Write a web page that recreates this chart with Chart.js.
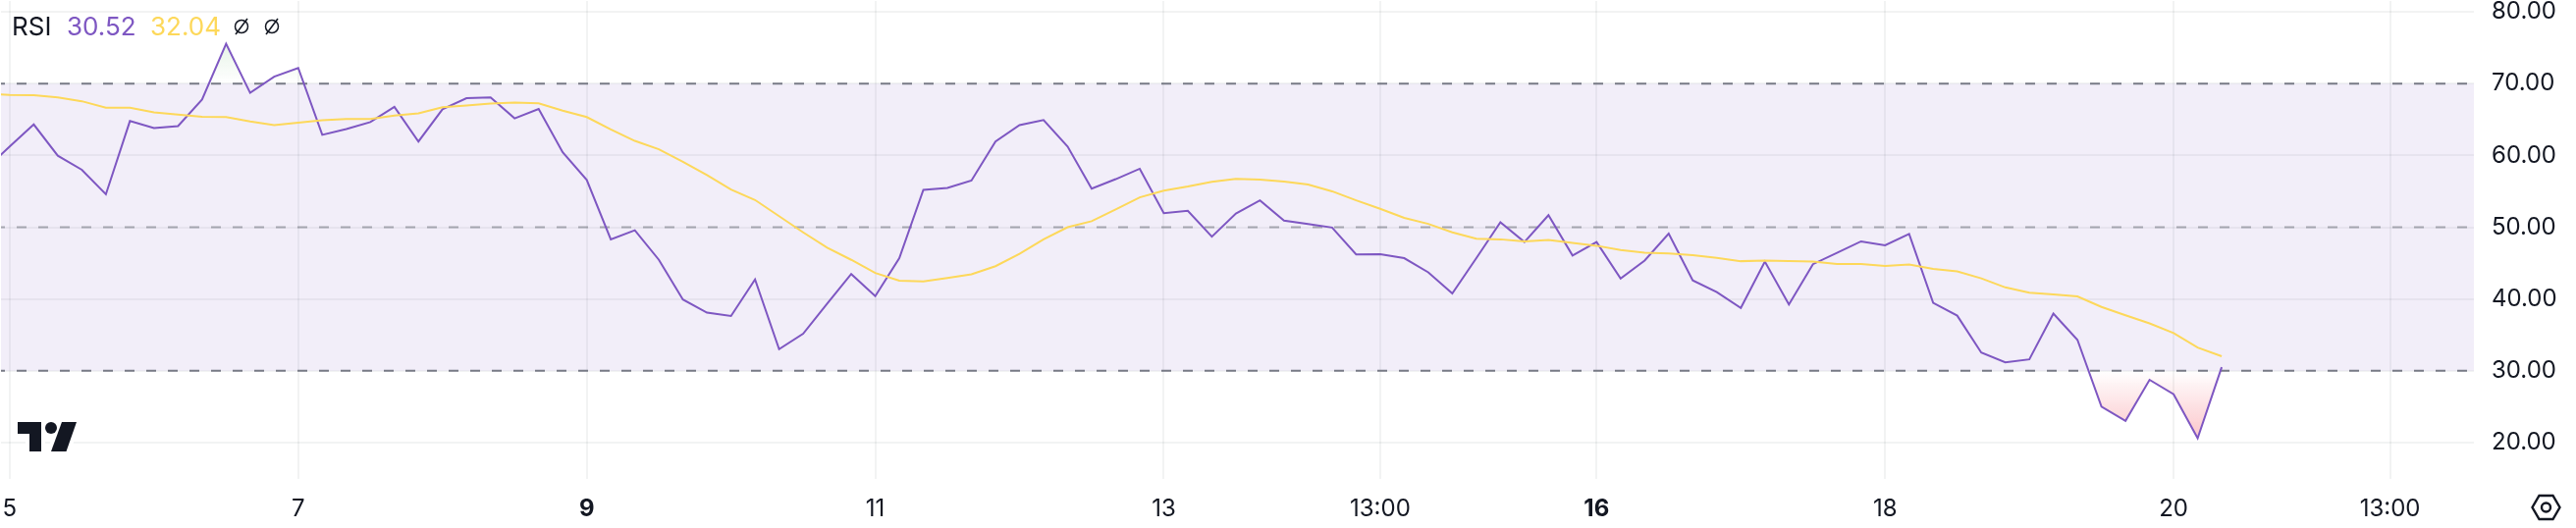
<!DOCTYPE html>
<html>
<head>
<meta charset="utf-8">
<title>RSI</title>
<script src="https://cdn.jsdelivr.net/npm/chart.js@4/dist/chart.umd.min.js"></script>
<style>
  html, body { margin: 0; padding: 0; background: #fff; }
  #wrap { position: relative; width: 2624px; height: 538px; overflow: hidden; font-family: Inter, sans-serif; }
  canvas { display: block; }
  .hdr { position: absolute; top: 9px; font-size: 26px; line-height: 36px; white-space: nowrap; }
  svg { position: absolute; overflow: visible; }
</style>
</head>
<body>
<div id="wrap">
  <canvas id="chart" width="2624" height="538"></canvas>
  <div class="hdr" style="left:12px;color:#131722">RSI</div>
  <div class="hdr" style="left:68px;color:#7E57C2">30.52</div>
  <div class="hdr" style="left:153px;color:#FDD85A">32.04</div>
  <svg style="left:0;top:0" width="300" height="50" fill="none" stroke="#131722" stroke-width="1.5">
    <circle cx="246" cy="27" r="6.5"/><line x1="240" y1="35" x2="252" y2="19"/>
    <circle cx="277" cy="27" r="6.5"/><line x1="271" y1="35" x2="283" y2="19"/>
  </svg>
  <svg style="left:0;top:0" width="100" height="500">
    <g fill="#fff" stroke="#fff" stroke-width="8">
      <path d="M18 430H42V460H30V442H18Z"/>
      <path d="M63 430H78L67.5 460H52Z"/>
    </g>
    <g fill="#131722">
      <path d="M18 430H42V460H30V442H18Z"/>
      <circle cx="52" cy="436" r="6"/>
      <path d="M63 430H78L67.5 460H52Z"/>
    </g>
  </svg>
  <svg style="left:2570px;top:495px" width="46" height="44" fill="none" stroke="#131722" stroke-width="2.4">
    <path d="M16.5 10H30.5L37.5 22L30.5 34H16.5L9.5 22Z"/><circle cx="23.5" cy="22" r="4.5"/>
  </svg>
</div>
<script>
// 4h bars, first value sits one bar left of the "5" tick
const firstBar = -1;
const rsi = [58.14, 61.23, 64.31, 59.96, 58.0, 54.58, 64.78, 63.8, 64.08, 67.78, 75.55, 68.71, 70.96, 72.18,
  62.86, 63.66, 64.64, 66.75, 61.93, 66.42, 67.96, 68.06, 65.16, 66.47, 60.43, 56.59, 48.31, 49.57, 45.46, 39.93,
  38.11, 37.64, 42.74, 33.01, 35.16, 39.37, 43.49, 40.4, 45.69, 55.19, 55.47, 56.5, 61.93, 64.22, 64.92, 61.23,
  55.38, 56.69, 58.14, 51.96, 52.29, 48.68, 51.91, 53.74, 50.93, 50.46, 49.95, 46.21, 46.25, 45.69, 43.72, 40.78,
  45.69, 50.7, 47.94, 51.68, 46.06, 47.94, 42.84, 45.36, 49.11, 42.6, 40.96, 38.76, 45.22, 39.23, 44.85, 46.44,
  48.03, 47.47, 49.06, 39.47, 37.69, 32.54, 31.18, 31.6, 37.97, 34.32, 25.01, 23.04, 28.75, 26.74, 20.61, 30.52];
const rsiMa = [68.6, 68.43, 68.39, 68.06, 67.54, 66.65, 66.65, 66.0, 65.67, 65.39, 65.34, 64.74, 64.22, 64.55,
  64.88, 65.06, 65.06, 65.53, 65.86, 66.7, 66.93, 67.22, 67.36, 67.26, 66.23, 65.34, 63.61, 62.02, 60.85, 59.12,
  57.25, 55.24, 53.79, 51.54, 49.29, 47.14, 45.46, 43.63, 42.55, 42.46, 42.93, 43.44, 44.57, 46.3, 48.31, 50.0,
  50.84, 52.48, 54.16, 55.1, 55.66, 56.31, 56.73, 56.64, 56.36, 55.94, 55.0, 53.74, 52.57, 51.31, 50.46, 49.29,
  48.4, 48.31, 48.03, 48.22, 47.8, 47.42, 46.81, 46.44, 46.34, 46.11, 45.74, 45.27, 45.36, 45.27, 45.22, 44.89,
  44.89, 44.61, 44.8, 44.19, 43.86, 42.88, 41.62, 40.87, 40.64, 40.36, 38.9, 37.74, 36.61, 35.26, 33.24, 32.04];

const xTickBars = [0, 12, 24, 36, 48, 57, 66, 78, 90, 99];
const xTickLabels = ['5', '7', '9', '11', '13', '13:00', '16', '18', '20', '13:00'];
const xBoldLabels = ['9', '16'];
const yTicks = [20, 30, 40, 50, 60, 70, 80];
const upperLevel = 70, middleLevel = 50, lowerLevel = 30;

const xMin = -0.363, xMax = 102.49, yMin = 14.95, yMax = 81.5;
const TEXT = '#131722', GRID = 'rgba(42,46,57,0.06)';

const points = arr => arr.map((v, i) => ({ x: i + firstBar, y: v }));
const level = v => [{ x: xMin, y: v }, { x: xMax, y: v }];
const dashed = (v, color, order) => ({
  data: level(v), borderColor: color, borderWidth: 2, borderDash: [10, 12], borderDashOffset: 6,
  pointRadius: 0, fill: false, order
});

const chart = new Chart(document.getElementById('chart'), {
  type: 'line',
  data: {
    datasets: [
      { data: points(rsiMa), borderColor: '#FDD85A', borderWidth: 2, pointRadius: 0, fill: false, order: 1 },
      { data: points(rsi), borderColor: '#7E57C2', borderWidth: 2, pointRadius: 0, fill: false, order: 2 },
      // overbought / oversold shading under the line
      { data: points(rsi), borderWidth: 0, pointRadius: 0, order: 3,
        fill: { target: { value: upperLevel }, above: 'transparent', below: 'transparent' } },
      { data: points(rsi), borderWidth: 0, pointRadius: 0, order: 3,
        fill: { target: { value: lowerLevel }, above: 'transparent', below: 'transparent' } },
      dashed(upperLevel, '#787B86', 4),
      dashed(middleLevel, 'rgba(120,123,134,0.6)', 4),
      dashed(lowerLevel, '#787B86', 4),
      // band between the levels
      { data: level(upperLevel), borderWidth: 0, pointRadius: 0, order: 5,
        backgroundColor: 'rgba(126,87,194,0.1)', fill: { target: { value: lowerLevel } } }
    ]
  },
  options: {
    responsive: false,
    animation: false,
    parsing: false,
    normalized: true,
    layout: { padding: 0 },
    elements: { line: { tension: 0, borderCapStyle: 'butt', borderJoinStyle: 'miter' } },
    plugins: { legend: { display: false }, title: { display: false }, tooltip: { enabled: false } },
    scales: {
      x: {
        type: 'linear', min: xMin, max: xMax,
        afterBuildTicks: s => { s.ticks = xTickBars.map(v => ({ value: v })); },
        afterFit: s => { s.height = 50; s.paddingLeft = 0; s.paddingRight = 0; },
        border: { display: false },
        grid: { color: GRID, lineWidth: 2, drawTicks: false },
        ticks: {
          autoSkip: false, maxRotation: 0, padding: 16, color: TEXT,
          font: c => ({
            family: 'Inter', size: 24,
            weight: xBoldLabels.includes(xTickLabels[xTickBars.indexOf(c.tick && c.tick.value)]) ? '700' : '400'
          }),
          callback: v => xTickLabels[xTickBars.indexOf(v)]
        }
      },
      y: {
        position: 'right', min: yMin, max: yMax,
        afterBuildTicks: s => { s.ticks = yTicks.map(v => ({ value: v })); },
        afterFit: s => { s.width = 104; s.paddingTop = 0; s.paddingBottom = 0; },
        border: { display: false },
        grid: { color: GRID, lineWidth: 2, drawTicks: false },
        ticks: {
          padding: 18, color: TEXT, font: { family: 'Inter', size: 24 },
          callback: v => v.toFixed(2)
        }
      }
    }
  }
});

// gradients need the scale, so they go in after the first layout
const y = chart.scales.y, ctx = chart.ctx;
const green = ctx.createLinearGradient(0, y.getPixelForValue(upperLevel), 0, y.getPixelForValue(80));
green.addColorStop(0, 'rgba(76,175,80,0)');
green.addColorStop(1, 'rgba(76,175,80,0.25)');
const red = ctx.createLinearGradient(0, y.getPixelForValue(lowerLevel), 0, y.getPixelForValue(20));
red.addColorStop(0, 'rgba(242,54,69,0)');
red.addColorStop(1, 'rgba(242,54,69,0.3)');
chart.data.datasets[2].fill.above = green;
chart.data.datasets[3].fill.below = red;
chart.update('none');
</script>
</body>
</html>
